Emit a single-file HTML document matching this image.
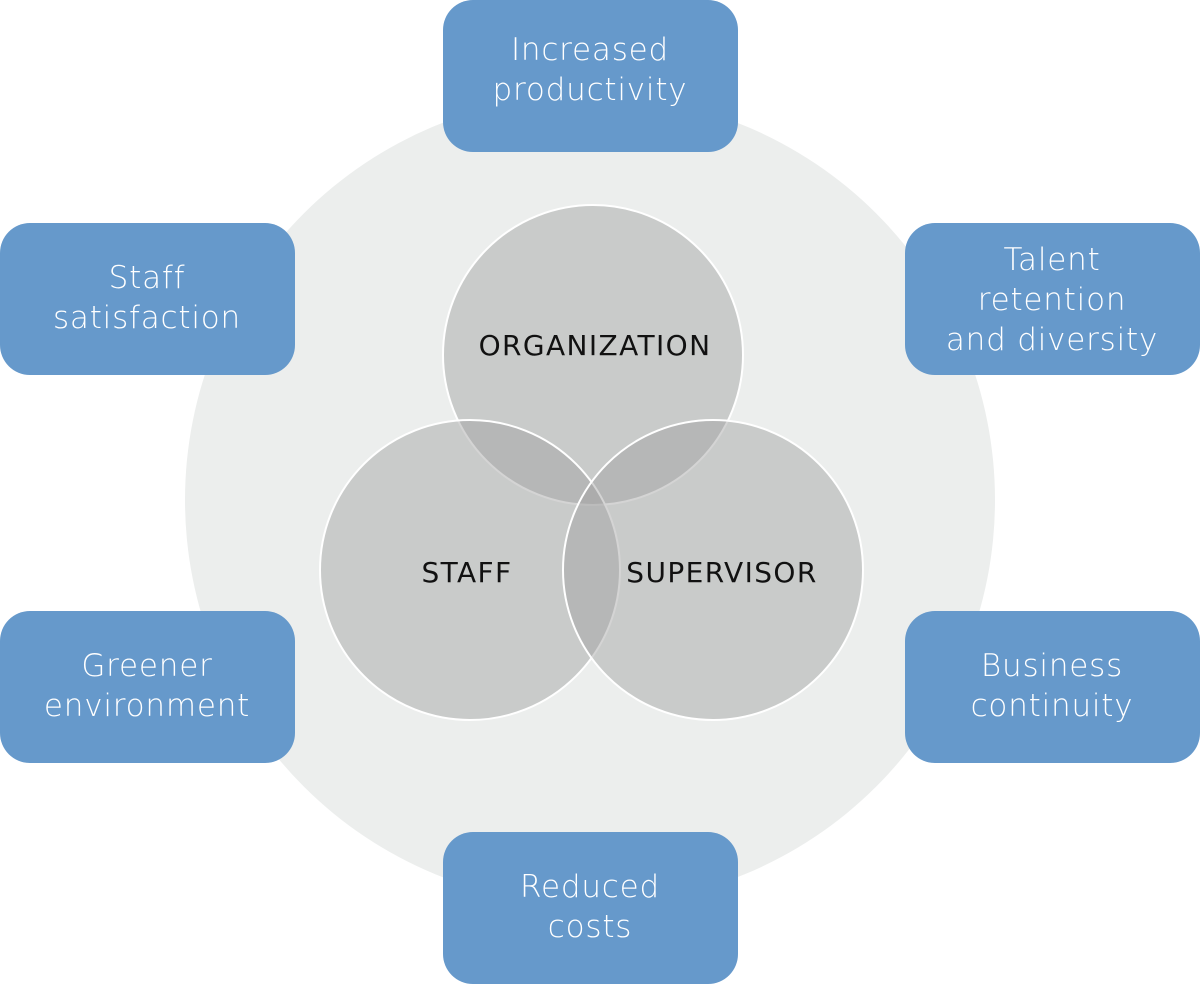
<!DOCTYPE html>
<html><head><meta charset="utf-8"><style>
html,body{margin:0;padding:0;background:#fff;}
svg{display:block}
.b{font-family:"DejaVu Sans","Liberation Sans",sans-serif;font-size:31px;fill:#fff;text-anchor:middle;font-weight:300;letter-spacing:0.8px}
.c{font-family:"DejaVu Sans","Liberation Sans",sans-serif;font-size:28px;fill:#111;text-anchor:middle;letter-spacing:1.4px;font-weight:normal}
</style></head><body>
<svg width="1200" height="984" viewBox="0 0 1200 984">
<circle cx="590" cy="500" r="405" fill="#eceeed"/>
<g fill="rgba(160,160,160,0.45)" stroke="#fff" stroke-width="2">
<circle cx="593" cy="355" r="150"/>
<circle cx="470" cy="570" r="150"/>
<circle cx="713" cy="570" r="150"/>
</g>
<text class="c" x="595" y="355">ORGANIZATION</text>
<text class="c" x="467" y="582">STAFF</text>
<text class="c" x="722" y="582">SUPERVISOR</text>
<g fill="#6699cb">
<rect x="443" y="0" width="295" height="152" rx="30"/>
<rect x="0" y="223" width="295" height="152" rx="30"/>
<rect x="905" y="223" width="295" height="152" rx="30"/>
<rect x="0" y="611" width="295" height="152" rx="30"/>
<rect x="905" y="611" width="295" height="152" rx="30"/>
<rect x="443" y="832" width="295" height="152" rx="30"/>
</g>
<text class="b" x="590" y="60">Increased</text>
<text class="b" x="590" y="100">productivity</text>
<text class="b" x="147" y="288">Staff</text>
<text class="b" x="147" y="328">satisfaction</text>
<text class="b" x="1052" y="270">Talent</text>
<text class="b" x="1052" y="310">retention</text>
<text class="b" x="1052" y="350">and diversity</text>
<text class="b" x="147" y="676">Greener</text>
<text class="b" x="147" y="716">environment</text>
<text class="b" x="1052" y="676">Business</text>
<text class="b" x="1052" y="716">continuity</text>
<text class="b" x="590" y="897">Reduced</text>
<text class="b" x="590" y="937">costs</text>
</svg>
</body></html>
